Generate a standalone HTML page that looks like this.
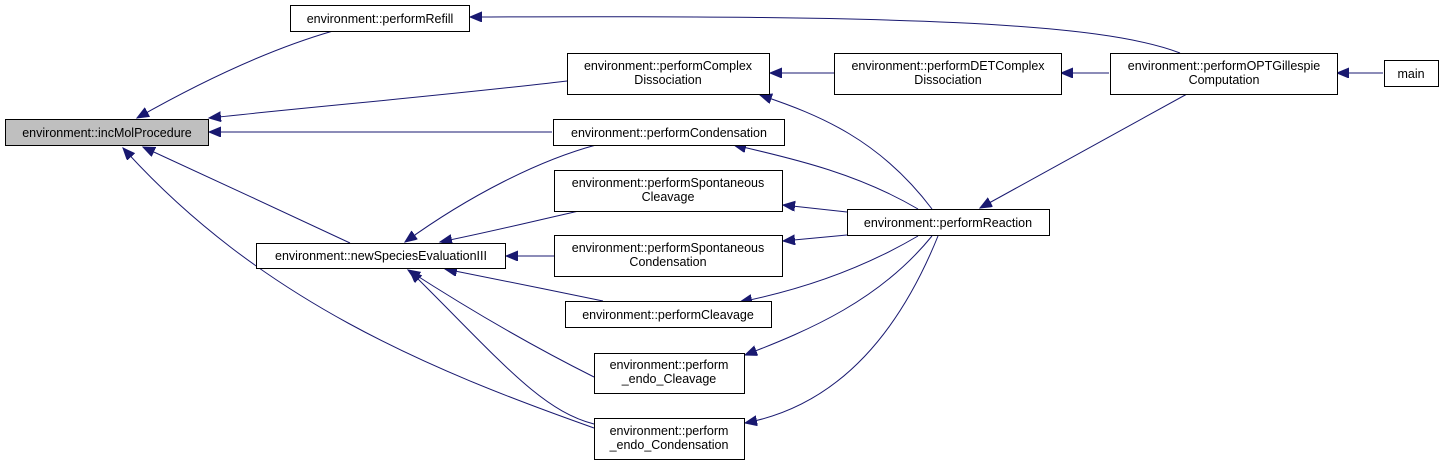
<!DOCTYPE html>
<html><head><meta charset="utf-8"><style>
html,body{margin:0;padding:0;background:#fff;}
svg{display:block;}
text{font-family:"Liberation Sans",sans-serif;font-size:12.5px;fill:#000;}
</style></head><body>
<svg width="1440" height="464" viewBox="0 0 1440 464" xmlns="http://www.w3.org/2000/svg">
<defs>
<marker id="a" markerUnits="userSpaceOnUse" markerWidth="14" markerHeight="12" refX="12" refY="5" orient="auto">
<path d="M0,0 L12,5 L0,10 z" fill="#191970" stroke="#191970"/>
</marker>
</defs>
<g fill="none" stroke="#191970" stroke-width="1" marker-end="url(#a)">
<path d="M333,31 C260,52 190,88 137,118"/>
<path d="M567,81 C450,95 320,106 209,118"/>
<path d="M552,132 L209,132"/>
<path d="M350,243 C290,215 200,173 143,147"/>
<path d="M594,428 C430,370 260,300 123,148"/>
<path d="M1180,53 C1100,22 900,15 470,17"/>
<path d="M834,73 L770,73"/>
<path d="M1109,73 L1061,73"/>
<path d="M1383,73 L1337,73"/>
<path d="M1187,94 L980,208"/>
<path d="M932,209 C880,140 820,115 760,95"/>
<path d="M918,209 C860,175 800,160 734,145"/>
<path d="M847,212 L783,205"/>
<path d="M847,235 L783,241"/>
<path d="M918,236 C860,270 800,290 740,302"/>
<path d="M932,236 C880,300 810,330 745,355"/>
<path d="M938,236 C900,330 840,405 745,423"/>
<path d="M596,145 C540,160 470,195 405,242"/>
<path d="M579,211 C530,222 490,232 440,242"/>
<path d="M554,256 L506,256"/>
<path d="M603,301 C550,290 500,280 445,269"/>
<path d="M594,377 C530,345 470,310 408,270"/>
<path d="M594,424 C540,410 500,360 410,271"/>
</g>
<g stroke="#000" stroke-width="1">
<rect x="5.5" y="119.5" width="203" height="26" fill="#bfbfbf"/>
<rect x="290.5" y="5.5" width="179" height="26" fill="#fff"/>
<rect x="567.5" y="53.5" width="202" height="41" fill="#fff"/>
<rect x="834.5" y="53.5" width="227" height="41" fill="#fff"/>
<rect x="1110.5" y="53.5" width="227" height="41" fill="#fff"/>
<rect x="1384.5" y="60.5" width="54" height="26" fill="#fff"/>
<rect x="553.5" y="119.5" width="231" height="26" fill="#fff"/>
<rect x="554.5" y="170.5" width="228" height="41" fill="#fff"/>
<rect x="554.5" y="235.5" width="228" height="41" fill="#fff"/>
<rect x="847.5" y="209.5" width="202" height="26" fill="#fff"/>
<rect x="256.5" y="243.5" width="249" height="25" fill="#fff"/>
<rect x="565.5" y="301.5" width="206" height="26" fill="#fff"/>
<rect x="594.5" y="353.5" width="150" height="40" fill="#fff"/>
<rect x="594.5" y="418.5" width="150" height="41" fill="#fff"/>
</g>
<g text-anchor="middle">
<text x="107" y="137">environment::incMolProcedure</text>
<text x="380" y="23">environment::performRefill</text>
<text x="668" y="70">environment::performComplex</text>
<text x="668" y="84">Dissociation</text>
<text x="948" y="70">environment::performDETComplex</text>
<text x="948" y="84">Dissociation</text>
<text x="1224" y="70">environment::performOPTGillespie</text>
<text x="1224" y="84">Computation</text>
<text x="1411" y="78">main</text>
<text x="669" y="137">environment::performCondensation</text>
<text x="668" y="187">environment::performSpontaneous</text>
<text x="668" y="201">Cleavage</text>
<text x="668" y="252">environment::performSpontaneous</text>
<text x="668" y="266">Condensation</text>
<text x="948" y="227">environment::performReaction</text>
<text x="381" y="260">environment::newSpeciesEvaluationIII</text>
<text x="668" y="319">environment::performCleavage</text>
<text x="669" y="369">environment::perform</text>
<text x="669" y="383">_endo_Cleavage</text>
<text x="669" y="435">environment::perform</text>
<text x="669" y="449">_endo_Condensation</text>
</g>
</svg>
</body></html>
